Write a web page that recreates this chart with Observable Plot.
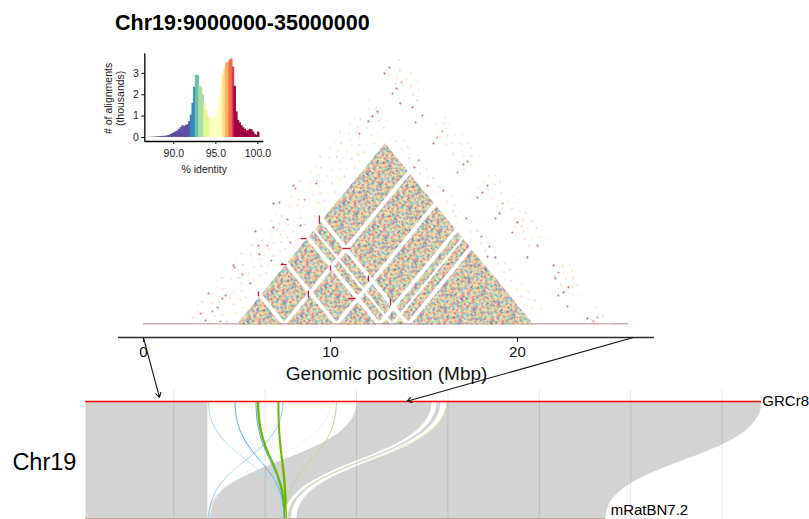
<!DOCTYPE html>
<html>
<head>
<meta charset="utf-8">
<script src="https://cdn.jsdelivr.net/npm/d3@7"></script>
<script src="https://cdn.jsdelivr.net/npm/@observablehq/plot@0.6"></script>
<style>
  html, body { margin: 0; background: #fff; }
  #chart { position: relative; width: 809px; height: 519px; overflow: hidden; font-family: "Liberation Sans", Arial, sans-serif; }
  #chart svg { position: absolute; left: 0; top: 0; }
  #title { position: absolute; left: 115px; top: 11px; font-size: 21.5px; font-weight: 700; color: #000; line-height: 25px; white-space: nowrap; z-index: 5; }
</style>
</head>
<body>
<div id="chart"><div id="title">Chr19:9000000-35000000</div></div>
<script>
// ---------- histogram inset: bin start (% identity), height (thousands)
const binWidth = 0.2;
const histStart = 87;
const histCounts = [.01,.01,.01,.02,.02,.03,.03,.04,.05,.05,.06,.08,.10,.14,.18,.22,.27,.30,.38,.46,.55,.50,.56,.60,.74,1.05,1.60,2.35,2.92,2.90,2.40,2.35,2.00,1.60,1.25,1.00,.88,.82,.84,.90,1.05,1.35,1.85,2.40,2.95,3.25,3.50,3.50,3.62,3.68,3.30,2.40,1.20,.80,.68,.55,.45,.38,.30,.32,.38,.36,.25,.14,.10,.25];
const identityBreaks = [92.0,92.6,93.0,93.6,94.4,95.8,96.2,96.6,96.9,97.3,101];
const identityColors = ["#5E4FA2","#3288BD","#66C2A5","#ABDDA4","#E6F598","#FFFFBF","#FEE08B","#FDAE61","#F46D43","#D53E4F","#9E0142"];
const xTicksHist = [90,95,100];
const yTicksHist = [0,1,2,3];

// ---------- self-alignment triangle: coordinates in Mbp
const denseStart = 4.97, denseEnd = 20.86;
const gapStarts = [7.38,10.19,12.46,13.21,14.01];
const gapEnds   = [7.65,10.45,12.73,13.37,14.28];
// sparse blocks [a start, a end, b start, b end]
const sparseLeftA = [2.0,4.7];
const sparseBlocksA1 = [2.0,6.8,11.8,15.1,19.3];
const sparseBlocksA2 = [4.7,10.6,14.7,17.9,22.0];
const upperBand = [23.8,25.4];
const innerBand = [21.2,22.2];
const tailTriangle = [23.4,25.3];
// strongest individual off-block dots: genomic midpoint (Mbp), separation (Mbp), identity (%)
const dotX = [8.61,6.63,5.29,4.87,6.20,5.99,7.70,8.13,7.27,4.22,3.48,3.05,3.96,7.86,6.84,6.15,9.25,8.02,6.95,5.72,4.81,7.43,8.40,7.70,6.95,13.80,13.53,13.32,14.65,13.74,14.39,14.92,14.55,12.51,12.03,12.25,15.72,15.99,15.51,11.55,14.71,14.49,16.79,17.11,17.33,16.04,18.13,18.40,17.86,15.19,13.16,12.89,19.04,18.82,19.20,19.73,20.00,21.07,20.53,21.93,22.19,22.03,22.73,22.46,22.67,22.19,24.28,23.74,18.07,18.50,17.27,18.82,18.40,4.39,3.69,4.12,3.32,24.06];
const dotY = [10.96,6.93,4.39,5.00,6.14,8.16,9.21,11.93,10.70,2.28,2.72,0.96,1.49,7.19,5.61,6.93,12.37,12.19,10.61,3.60,5.18,5.35,8.68,7.63,8.51,21.23,20.70,20.26,19.65,19.39,19.04,18.33,17.72,18.68,17.81,18.25,16.40,16.93,15.88,16.75,14.39,13.77,13.33,14.04,14.30,11.75,11.58,12.19,11.14,12.19,22.54,22.02,9.74,9.30,10.61,8.07,8.95,6.93,5.88,5.18,4.56,4.04,3.25,2.81,1.58,2.54,0.61,0.53,7.72,6.84,9.30,5.88,5.96,2.54,1.14,0.26,0.35,0.26];
const dotIdentity = [97.2,97.2,97.2,98,98,98,98,97.2,98,98,98,98,98,91,98,98,98,98,98,98,98,98,98,96.5,98,97.2,98,98,96.5,98,98,98,98,98,98,98,97.2,97.2,98,98,97.2,98,97.2,98,98,98,98,98,98,98,98,98,98,98,97.2,98,98,98,98,98,98,98,98,98,98,98,97.2,98,98,98,98,98,98,98,91,91,98,97.2];
// short red diagonal alignments at block corners
const redX1 = [9.41,6.15,8.82,12.03,13.21,10.0,8.40,7.33,10.64,10.96];
const redX2 = [9.41,6.15,8.82,12.03,13.21,10.0,8.72,7.65,11.07,11.34];
const redY1 = [9.56,2.89,2.98,4.30,2.28,5.18,7.54,5.26,6.67,2.28];
const redY2 = [8.86,2.46,2.37,3.77,1.67,4.74,7.54,5.26,6.67,2.28];
const baselineEnd = 25.94;
const mainTicks = [0,10,20];
const mainLabel = "Genomic position (Mbp)";

// ---------- synteny ribbons: top start, top end, bottom start, bottom end (Mbp)
const ribbonTopStart = [0.17,15.0,19.95,19.37,6.87,8.32,10.94,9.47,9.55,10.67,13.87,13.53,19.91];
const ribbonTopEnd   = [6.84,19.1,37.15,19.59,6.93,8.38,11.0,9.53,9.68,10.78,13.92,13.58,19.98];
const ribbonBotStart = [0.17,6.84,11.72,11.28,11.0,11.03,6.90,11.0,11.02,11.06,11.1,6.95,11.22];
const ribbonBotEnd   = [6.84,11.06,28.62,11.41,11.06,11.09,6.96,11.06,11.13,11.2,11.15,7.0,11.28];
const ribbonColors   = ["#D3D3D3","#D3D3D3","#D3D3D3","#D3D3D3","#A8DDF5","#64B5F0","#8ED0F2","#5CB3E8","#6CB800","#6FB700","#B5D98A","#EEEEEE","#C9E59A"];
const gridMbp = [5,10,15,20,25,30,35];
const topEnd = 37.15, botEnd = 28.62, trackStart = 0.17;

// ---------- purely visual speckle swatches (hand-typed), standing in for the tens of
// thousands of individual alignments that cannot be read one by one from the picture
const speckleColors = {p:"#6E64A6",b:"#5E95BF",t:"#79BFA8",g:"#A9D4A5",y:"#D6E3A2",l:"#EBE6B4",o:"#F6D48C",a:"#F5B07A",r:"#E87E62",d:"#CF5A70",m:"#A8406A"};
const denseTile = ["tagorbldytaorgpatbry","ordtgaypbolagtdorayg","gbalrtoargdtybogrtap","aytogdbarlgorpatygob","rpoatglrbaydotgraboy","lgtrbayodtarpgoltabr","oarpgtbolgaydrtbgoay","tbyogardtpolargtboda","dagtlorbyagtpoardgyt","yropagtmbgoltarbpgoa","gtaboryltgdapoytrbga","abdgtopragylbtoragdl","porytagbodrgtaylpbot","tglaorbtpagdyortgabr","rabotdgyoaltrbgpoady","ogpyrabtgdoartylgbao","btaogrlpyatogdrbaygt","lyrgtboaadgptroylbag","aotmbygrolatgbparodt","gdbaprtoygmaortblgya"];
const sparseColors = {o:"#FAE0B4",l:"#FBF1C4",p:"#F2C6D3"};
const sparseTile = ["..o.....l...","......p.....","l.......o...","....o.......","..........p.",".p....l.....","........o...","o..........l","....p.......","..l.....o...","...........p",".....o......"];

// ---------- derived tables
const font = {fontFamily: '"Liberation Sans", Arial, sans-serif', background: "transparent"};
const colorOfIdentity = v => identityColors[identityBreaks.findIndex(b => v < b)];
const bins = histCounts.map((c, i) => {
  const s = histStart + i * binWidth;
  return {x1: s, x2: s + binWidth, y: c, fill: colorOfIdentity(s + binWidth / 2)};
});

function intervals() {
  const out = []; let s = denseStart;
  gapStarts.forEach((g, i) => { out.push([s, g]); s = gapEnds[i]; });
  out.push([s, denseEnd]);
  return out;
}
const dense = intervals();
let polyId = 0;
function rectPoly(a1, a2, b1, b2) {
  const id = polyId++;
  return [[a1,b1],[a1,b2],[a2,b2],[a2,b1]].map(([a,b]) => ({id, x:(a+b)/2, y:b-a}));
}
function triPoly(s, e) {
  const id = polyId++;
  return [[s,s],[s,e],[e,e]].map(([a,b]) => ({id, x:(a+b)/2, y:b-a}));
}
const densePolys = [];
dense.forEach((I, i) => dense.forEach((J, j) => {
  if (i === j) densePolys.push(...triPoly(I[0], I[1]));
  else if (i < j) densePolys.push(...rectPoly(I[0], I[1], J[0], J[1]));
}));
const sparsePolys = [];
sparsePolys.push(...triPoly(sparseLeftA[0], sparseLeftA[1]));
dense.forEach(J => sparsePolys.push(...rectPoly(sparseLeftA[0], sparseLeftA[1], J[0], J[1])));
sparseBlocksA1.forEach((s, i) => sparsePolys.push(...rectPoly(s, sparseBlocksA2[i], upperBand[0], upperBand[1])));
dense.forEach(I => sparsePolys.push(...rectPoly(I[0], I[1], innerBand[0], innerBand[1])));
sparsePolys.push(...rectPoly(sparseLeftA[0], sparseLeftA[1], innerBand[0], innerBand[1]));
sparsePolys.push(...triPoly(tailTriangle[0], tailTriangle[1]));

const offDots = dotX.map((x, i) => ({x, y: dotY[i], fill: colorOfIdentity(dotIdentity[i])}));
const reds = redX1.map((x1, i) => ({x1, x2: redX2[i], y1: redY1[i], y2: redY2[i]}));

const ribbonPoints = ribbonColors.flatMap((c, i) => [
  {id:i, x:ribbonTopStart[i], y:0, c},
  {id:i, x:ribbonBotStart[i], y:1, c},
  {id:i, x:ribbonBotEnd[i], y:1, c},
  {id:i, x:ribbonTopEnd[i], y:0, c}
]);

function patternDefs() {
  const defs = d3.create("svg:defs");
  const addTile = (id, rows, colors, cell, rotate, size) => {
    const p = defs.append("pattern").attr("id", id).attr("patternUnits", "userSpaceOnUse")
      .attr("width", rows[0].length * cell).attr("height", rows.length * cell)
      .attr("patternTransform", `rotate(${rotate})`);
    rows.forEach((row, r) => [...row].forEach((ch, c) => {
      if (colors[ch]) p.append("rect").attr("x", c * cell).attr("y", r * cell)
        .attr("width", size).attr("height", size).attr("fill", colors[ch]);
    }));
  };
  addTile("denseTile", denseTile, speckleColors, 1.9, 39, 1.9);
  addTile("sparseTile", sparseTile, sparseColors, 2.6, 39, 1.7);
  return defs.node();
}

// ---------- bottom layer: synteny ribbons
const ribbonPlot = Plot.plot({
  width: 809, height: 519, margin: 0, marginTop: 401, marginBottom: 1, style: font,
  x: {domain: [-4.48, 39.78], axis: null},
  y: {domain: [0, 1], axis: null, reverse: true},
  color: {type: "identity"},
  marks: [
    Plot.line(ribbonPoints, {x:"x", y:"y", z:"id", fill:"c", stroke:"none", curve:"bump-y"}),
    Plot.ruleX(gridMbp, {y1:-0.095, y2:1.01, stroke:"#000", strokeOpacity:0.1, strokeWidth:1}),
    Plot.ruleY([0], {x1:trackStart, x2:topEnd, stroke:"#FF0000", strokeWidth:1.4}),
    Plot.ruleY([1], {x1:trackStart, x2:botEnd, stroke:"#C9A3A3", strokeWidth:1}),
    Plot.text(["GRCr8"], {x:topEnd+0.05, y:0, textAnchor:"start", fontSize:15, fill:"#000"}),
    Plot.text(["mRatBN7.2"], {x:28.9, y:0.925, textAnchor:"start", fontSize:15, fill:"#000"}),
    Plot.text(["Chr19"], {x:-3.83, y:0.52, textAnchor:"start", fontSize:23.5, fill:"#000"})
  ]
});

// ---------- middle layer: self-alignment triangle, axis, arrows
const mainPlot = Plot.plot({
  width: 809, height: 519, marginLeft: 118, marginRight: 155, marginTop: 0, marginBottom: 182, style: font,
  x: {domain: [-1.337, 27.33]},
  y: {domain: [-1.14, 28.42], axis: null},
  color: {type: "identity"},
  marks: [
    patternDefs,
    Plot.ruleY([0.06], {x1:0, x2:baselineEnd, stroke:"#D9A9B8", strokeWidth:1.4}),
    Plot.line(sparsePolys, {x:"x", y:"y", z:"id", fill:"url(#sparseTile)", stroke:"none", curve:"linear-closed"}),
    Plot.line(densePolys, {x:"x", y:"y", z:"id", fill:"url(#denseTile)", fillOpacity:0.9, stroke:"none", curve:"linear-closed"}),
    Plot.dot(offDots, {x:"x", y:"y", r:1.1, fill:"fill", fillOpacity:0.55, stroke:"none"}),
    Plot.link(reds, {x1:"x1", x2:"x2", y1:"y1", y2:"y2", stroke:"#D0122F", strokeWidth:1.3}),
    Plot.ruleY([-1.14], {stroke:"#2b2b2b", strokeWidth:1.6}),
    Plot.axisX({anchor:"bottom", ticks:mainTicks, tickSize:5, tickPadding:4, fontSize:15, label:null, stroke:"#2b2b2b", fill:"#111"}),
    Plot.text([mainLabel], {x:13, y:-4.3, fontSize:19, fill:"#111"}),
    Plot.arrow([{x1:0,y1:-1.17,x2:0.856,y2:-6.4},{x1:26.2,y1:-1.14,x2:14.1,y2:-6.73}], {x1:"x1",y1:"y1",x2:"x2",y2:"y2", stroke:"#111", strokeWidth:1.1, headLength:7})
  ]
});

// ---------- top layer: histogram inset
const histPlot = Plot.plot({
  width: 809, height: 519, marginLeft: 144.3, marginRight: 545.7, marginTop: 53.3, marginBottom: 378, style: font,
  x: {domain: [86.55, 100.7]},
  y: {domain: [-0.19, 3.92]},
  color: {type: "identity"},
  marks: [
    Plot.rectY(bins, {x1:"x1", x2:"x2", y1:0, y2:"y", fill:"fill", insetLeft:-0.35, insetRight:-0.35}),
    Plot.ruleX([86.55], {stroke:"#000", strokeWidth:1.3}),
    Plot.ruleY([-0.19], {stroke:"#000", strokeWidth:1.3}),
    Plot.axisX({anchor:"bottom", ticks:xTicksHist, tickSize:3, tickPadding:5, fontSize:10.5, tickFormat:d => d.toFixed(1), label:null, fill:"#222"}),
    Plot.axisY({anchor:"left", ticks:yTicksHist, tickSize:3, tickPadding:3, fontSize:10.5, tickFormat:d => String(d), label:null, fill:"#222"}),
    Plot.text(["% identity"], {x:93.62, y:-1.5, fontSize:10.5, fill:"#222"}),
    Plot.text(["# of alignments\n(thousands)"], {x:82.94, y:1.83, rotate:-90, fontSize:10.5, lineHeight:1.14, fill:"#222"})
  ]
});

const host = document.getElementById("chart");
host.append(ribbonPlot, mainPlot, histPlot);
</script>
</body>
</html>
